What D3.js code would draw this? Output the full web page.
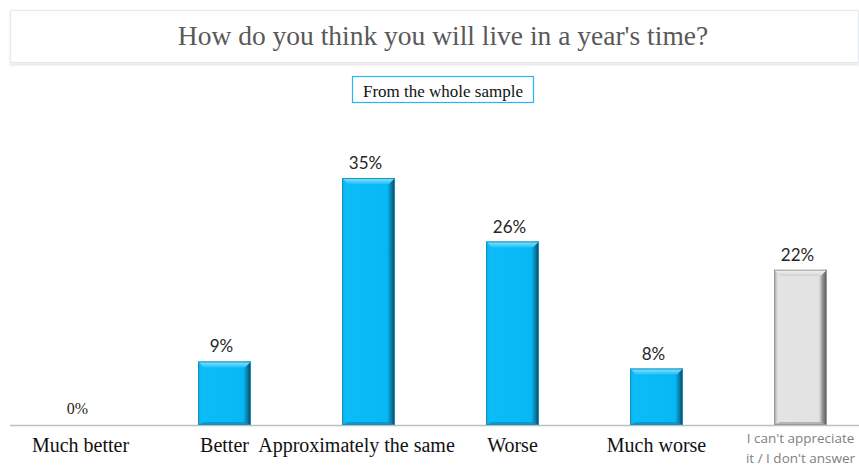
<!DOCTYPE html>
<html><head><meta charset="utf-8">
<script src="https://cdn.jsdelivr.net/npm/d3@7"></script>
<style>body{margin:0;background:#fff;}svg{display:block;}</style>
</head><body>
<script>
const categories = ["Much better","Better","Approximately the same","Worse","Much worse","I can't appreciate it / I don't answer"];
const values = [0, 9, 35, 26, 8, 22];
const valueLabels = ["0%","9%","35%","26%","8%","22%"];
const title = "How do you think you will live in a year's time?";
const subtitle = "From the whole sample";

const W = 859, H = 469;
const svg = d3.select("body").append("svg").attr("width", W).attr("height", H);
const defs = svg.append("defs");

function grad(id, stops, horiz) {
  const g = defs.append("linearGradient").attr("id", id)
    .attr("x1", 0).attr("y1", 0).attr("x2", horiz ? 1 : 0).attr("y2", horiz ? 0 : 1);
  stops.forEach(s => g.append("stop").attr("offset", s[0]).attr("stop-color", s[1]));
}
grad("blueBody", [[0,"#12a9d8"],[0.06,"#0bbcf7"],[0.85,"#06b8f5"],[0.92,"#0a86b4"],[1,"#123a55"]], true);
grad("grayBody", [[0,"#9a9a9a"],[0.07,"#e4e4e4"],[0.85,"#e2e2e2"],[0.92,"#8f8f8f"],[1,"#555"]], true);
grad("blueTop", [[0,"#8fe4ff"],[1,"#1ec2f8"]], false);
grad("grayTop", [[0,"#fbfbfb"],[1,"#d0d0d0"]], false);
const fs = defs.append("filter").attr("id","shadow").attr("x","-20%").attr("y","-50%").attr("width","140%").attr("height","200%");
fs.append("feGaussianBlur").attr("in","SourceAlpha").attr("stdDeviation",1.2);
fs.append("feOffset").attr("dy",1.5).attr("result","b");
fs.append("feComponentTransfer").append("feFuncA").attr("type","linear").attr("slope",0.12);
const fm = fs.append("feMerge"); fm.append("feMergeNode"); fm.append("feMergeNode").attr("in","SourceGraphic");

// Title box
svg.append("rect").attr("x", 10.5).attr("y", 10.5).attr("width", 848).attr("height", 52)
  .attr("fill", "#fff").attr("stroke", "#e6e9f0").attr("stroke-width", 1.2).attr("filter","url(#shadow)");
svg.append("text").attr("x", 443).attr("y", 45).attr("text-anchor", "middle")
  .attr("font-family", "'Liberation Serif', 'Times New Roman', serif").attr("font-size", 27.5)
  .attr("fill", "#595959").text(title);

// Subtitle box
svg.append("rect").attr("x", 352.5).attr("y", 76.5).attr("width", 181).attr("height", 26)
  .attr("fill", "#fff").attr("stroke", "#29b6f0").attr("stroke-width", 1.2);
svg.append("text").attr("x", 443).attr("y", 97).attr("text-anchor", "middle")
  .attr("font-family", "'Liberation Serif', 'Times New Roman', serif").attr("font-size", 17)
  .attr("fill", "#111").text(subtitle);

const baseY = 425;
const x = d3.scaleBand().domain(categories).range([8.5, 872.5]).paddingInner(0.632).paddingOuter(0.316);
const y = d3.scaleLinear().domain([0, 35]).range([baseY, 178]);

// axis line
svg.append("line").attr("x1", 10).attr("x2", 859).attr("y1", baseY + 0.5).attr("y2", baseY + 0.5)
  .attr("stroke", "#bfbfbf").attr("stroke-width", 1.5);

const isGray = (i) => i === categories.length - 1;
const bars = svg.append("g").selectAll("g").data(values).join("g");
bars.each(function(v, i) {
  if (v <= 0) return;
  const g = d3.select(this);
  const bx = x(categories[i]), bw = x.bandwidth(), by = y(v), bh = baseY - y(v);
  const gray = isGray(i);
  g.append("rect").attr("x", bx).attr("y", by).attr("width", bw).attr("height", bh)
    .attr("fill", gray ? "url(#grayBody)" : "url(#blueBody)");
  const bev = 6;
  g.append("path").attr("d", `M${bx},${by} L${bx+bw},${by} L${bx+bw-bev},${by+bev} L${bx+bev},${by+bev} Z`)
    .attr("fill", gray ? "url(#grayTop)" : "url(#blueTop)");
  g.append("path").attr("d", `M${bx},${baseY} L${bx+bw},${baseY} L${bx+bw-bev},${baseY-3} L${bx+bev},${baseY-3} Z`)
    .attr("fill", gray ? "#a9a9a9" : "#0a8fc2").attr("opacity", 0.8);
  g.append("rect").attr("x", bx + 0.5).attr("y", by + 0.5).attr("width", bw - 1).attr("height", bh - 1)
    .attr("fill", "none").attr("stroke", gray ? "#9a9a9a" : "#1690bd").attr("stroke-width", 1);
});

// value labels
svg.append("g").selectAll("text").data(values).join("text")
  .attr("x", (d, i) => x(categories[i]) + x.bandwidth() / 2 - 3)
  .attr("y", d => d === 0 ? 414 : y(d) - 9)
  .attr("text-anchor", "middle")
  .attr("font-family", (d) => d === 0 ? "'Liberation Serif', serif" : "Lato, 'Open Sans', sans-serif")
  .attr("font-size", d => d === 0 ? 16 : 17)
  .attr("fill", "#262626")
  .text((d, i) => valueLabels[i]);

// category labels
const catG = svg.append("g");
categories.forEach((c, i) => {
  const cx = x(c) + x.bandwidth() / 2;
  if (isGray(i)) {
    const t = catG.append("text").attr("x", cx).attr("text-anchor", "middle")
      .attr("font-family", "'Open Sans', 'Noto Sans', sans-serif").attr("font-size", 13.5).attr("fill", "#7f7f7f");
    t.append("tspan").attr("x", cx).attr("y", 443).text("I can't appreciate");
    t.append("tspan").attr("x", cx).attr("y", 463).text("it / I don't answer");
  } else {
    catG.append("text").attr("x", cx + (i === 2 ? -12 : 0)).attr("y", 452).attr("text-anchor", "middle")
      .attr("font-family", "'Liberation Serif', 'Times New Roman', serif").attr("font-size", 20)
      .attr("fill", "#111").text(c);
  }
});
</script>
</body></html>
